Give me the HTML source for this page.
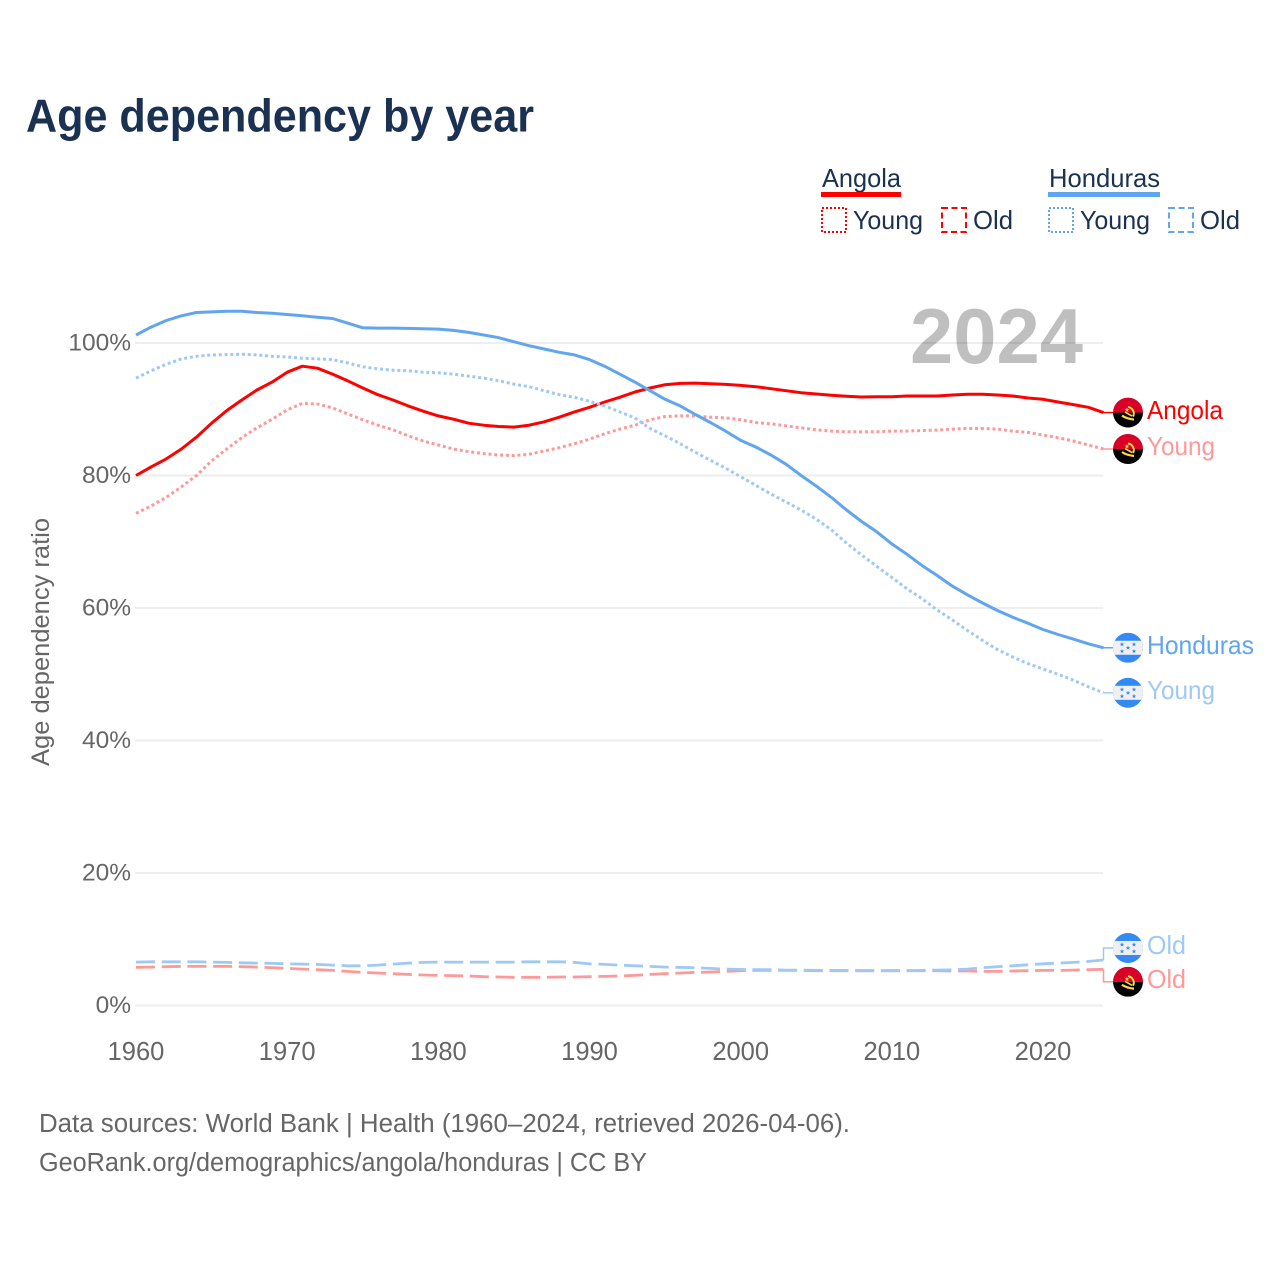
<!DOCTYPE html>
<html lang="en">
<head>
<meta charset="utf-8">
<title>Age dependency by year</title>
<style>
html,body{margin:0;padding:0;background:#fff;width:1280px;height:1280px;overflow:hidden}
svg{display:block;font-family:"Liberation Sans",sans-serif}
</style>
</head>
<body>
<svg id="chart" width="1280" height="1280" viewBox="0 0 1280 1280" xmlns="http://www.w3.org/2000/svg">
<defs>
<clipPath id="flag-clip"><circle cx="0" cy="0" r="15"/></clipPath>
<polygon id="flag-star" points="0,-2.2 0.6,-0.7 2.2,-0.7 1,0.3 1.4,1.9 0,1 -1.4,1.9 -1,0.3 -2.2,-0.7 -0.6,-0.7" fill="#338af3"/>
<g id="flag-angola">
<g clip-path="url(#flag-clip)">
<rect x="-15" y="-15" width="30" height="15" fill="#d80027"/>
<rect x="-15" y="0" width="30" height="15" fill="#000"/>
<path d="M0,-5.5 A6.5,6.5 0 0 1 5,4" fill="none" stroke="#ffda44" stroke-width="2"/>
<path d="M-6,3 Q-2,6 6,7" fill="none" stroke="#ffda44" stroke-width="2.2"/>
<path d="M4,3.5 L-3,-0.5" fill="none" stroke="#ffda44" stroke-width="1.6"/>
<polygon points="-1,-5 -0.3,-3.4 1.4,-3.4 0,-2.3 0.5,-0.6 -1,-1.6 -2.5,-0.6 -2,-2.3 -3.4,-3.4 -1.7,-3.4" fill="#ffda44"/>
</g>
</g>
<g id="flag-honduras">
<g clip-path="url(#flag-clip)">
<rect x="-15" y="-15" width="30" height="30" fill="#338af3"/>
<rect x="-15" y="-7" width="30" height="14" fill="#f0f0f0"/>
<use href="#flag-star" x="-6" y="-3.4"/>
<use href="#flag-star" x="6" y="-3.4"/>
<use href="#flag-star" x="0" y="0"/>
<use href="#flag-star" x="-6" y="3.4"/>
<use href="#flag-star" x="6" y="3.4"/>
</g>
</g>
</defs>

<text x="26" y="131.5" font-size="46" font-weight="700" fill="#1a3152" textLength="508" lengthAdjust="spacingAndGlyphs">Age dependency by year</text>

<g font-size="26" fill="#1a3152">
  <text x="822" y="187" textLength="79" lengthAdjust="spacingAndGlyphs">Angola</text>
  <rect x="821" y="192" width="80" height="5" fill="#ff0000"/>
  <rect x="822" y="208" width="24" height="24" fill="none" stroke="#ff0000" stroke-width="2" stroke-dasharray="2 2"/>
  <text x="853" y="229" textLength="70" lengthAdjust="spacingAndGlyphs">Young</text>
  <rect x="942" y="208" width="24" height="24" fill="none" stroke="#ff0000" stroke-width="2" stroke-dasharray="6 3.5"/>
  <text x="973" y="229" textLength="40" lengthAdjust="spacingAndGlyphs">Old</text>
  <text x="1049" y="187" textLength="111" lengthAdjust="spacingAndGlyphs">Honduras</text>
  <rect x="1048" y="192" width="112" height="5" fill="#60a5ee"/>
  <rect x="1049" y="208" width="24" height="24" fill="none" stroke="#60a5ee" stroke-width="2" stroke-dasharray="2 2"/>
  <text x="1080" y="229" textLength="70" lengthAdjust="spacingAndGlyphs">Young</text>
  <rect x="1169" y="208" width="24" height="24" fill="none" stroke="#60a5ee" stroke-width="2" stroke-dasharray="6 3.5"/>
  <text x="1200" y="229" textLength="40" lengthAdjust="spacingAndGlyphs">Old</text>
</g>

<g id="grid"></g>
<g id="yticks"></g>
<g id="xticks"></g>

<text transform="translate(49,642) rotate(-90)" text-anchor="middle" font-size="25" fill="#666" textLength="248" lengthAdjust="spacingAndGlyphs">Age dependency ratio</text>

<g id="series"></g>
<g id="labels"></g>

<text x="910" y="363" font-size="78" font-weight="700" fill="#000" fill-opacity="0.25" textLength="173" lengthAdjust="spacingAndGlyphs">2024</text>

<g font-size="25.5" fill="#666">
  <text x="39" y="1132" textLength="811" lengthAdjust="spacingAndGlyphs">Data sources: World Bank | Health (1960–2024, retrieved 2026-04-06).</text>
  <text x="39" y="1171" textLength="608" lengthAdjust="spacingAndGlyphs">GeoRank.org/demographics/angola/honduras | CC BY</text>
</g>
</svg>

<script>
var years = [1960,1961,1962,1963,1964,1965,1966,1967,1968,1969,1970,1971,1972,1973,1974,1975,1976,1977,1978,1979,1980,1981,1982,1983,1984,1985,1986,1987,1988,1989,1990,1991,1992,1993,1994,1995,1996,1997,1998,1999,2000,2001,2002,2003,2004,2005,2006,2007,2008,2009,2010,2011,2012,2013,2014,2015,2016,2017,2018,2019,2020,2021,2022,2023,2024];
var xTickLabels = [1960,1970,1980,1990,2000,2010,2020];
var yTickLabels = [0,20,40,60,80,100];

var angolaTotal = [80,81.3,82.5,84,85.8,87.9,89.8,91.4,92.9,94.1,95.6,96.5,96.2,95.3,94.3,93.2,92.2,91.4,90.5,89.7,89,88.5,87.9,87.6,87.4,87.3,87.6,88.1,88.8,89.6,90.3,91.1,91.8,92.6,93.2,93.7,93.9,93.95,93.85,93.75,93.6,93.4,93.1,92.8,92.5,92.3,92.1,91.95,91.85,91.9,91.9,92,92,92,92.15,92.25,92.25,92.15,92,91.7,91.5,91.1,90.7,90.3,89.5];
var angolaYoung = [74.3,75.4,76.7,78.3,80,82.2,84,85.7,87.2,88.5,89.9,90.9,90.8,90.2,89.3,88.4,87.6,86.9,86,85.2,84.6,84,83.6,83.3,83.1,83,83.2,83.7,84.2,84.8,85.5,86.3,87,87.6,88.4,88.9,89,89,88.8,88.7,88.4,88,87.8,87.5,87.2,86.9,86.7,86.6,86.6,86.6,86.7,86.7,86.8,86.85,87,87.1,87.1,87,86.7,86.5,86.1,85.7,85.2,84.6,84];
var angolaOld = [5.77,5.8,5.85,5.9,5.9,5.9,5.9,5.85,5.8,5.7,5.6,5.5,5.4,5.3,5.15,5,4.9,4.8,4.7,4.6,4.55,4.5,4.45,4.35,4.3,4.25,4.25,4.25,4.3,4.3,4.35,4.4,4.45,4.55,4.7,4.8,4.9,5,5.05,5.15,5.25,5.3,5.3,5.3,5.3,5.25,5.25,5.25,5.25,5.25,5.25,5.25,5.25,5.25,5.2,5.2,5.15,5.15,5.2,5.25,5.3,5.3,5.35,5.4,5.47];
var hondurasTotal = [101.2,102.4,103.4,104.1,104.6,104.7,104.8,104.8,104.6,104.5,104.3,104.1,103.9,103.7,103,102.3,102.25,102.25,102.2,102.15,102.1,101.9,101.6,101.2,100.8,100.2,99.6,99.1,98.6,98.2,97.5,96.5,95.3,94.1,92.8,91.5,90.5,89.2,88,86.7,85.3,84.3,83.1,81.7,80,78.4,76.7,74.8,73.06,71.5,69.66,68.1,66.4,64.9,63.3,62,60.75,59.6,58.6,57.7,56.75,56,55.3,54.6,54];
var hondurasYoung = [94.7,95.8,96.8,97.6,98,98.2,98.25,98.3,98.2,98,97.9,97.7,97.6,97.5,97,96.4,96.1,95.9,95.8,95.6,95.5,95.3,95,94.7,94.3,93.8,93.4,92.8,92.2,91.8,91.2,90.5,89.6,88.7,87.1,86,84.8,83.5,82.3,81.1,79.8,78.5,77.2,76,74.8,73.4,71.8,69.8,68,66.3,64.6,62.9,61.4,59.7,58.2,56.6,55.1,53.7,52.6,51.6,50.8,50,49.1,48.1,47.2];
var hondurasOld = [6.55,6.6,6.6,6.6,6.6,6.55,6.5,6.45,6.4,6.35,6.3,6.25,6.2,6.1,6,6,6.1,6.25,6.4,6.5,6.55,6.55,6.55,6.55,6.55,6.55,6.6,6.6,6.6,6.5,6.3,6.2,6.1,6,5.9,5.8,5.75,5.7,5.6,5.5,5.45,5.4,5.4,5.35,5.35,5.3,5.3,5.3,5.25,5.25,5.25,5.25,5.3,5.35,5.4,5.5,5.7,5.85,6,6.15,6.3,6.4,6.5,6.65,6.87];

var SVGNS = 'http://www.w3.org/2000/svg';
function xScale(year){ return 136 + (year - 1960) * 15.117; }
function yScale(v){ return 1005.5 - v * 6.625; }
function make(tag, parent){
  var el = document.createElementNS(SVGNS, tag);
  parent.appendChild(el);
  return el;
}

var gridG = document.getElementById('grid');
var yG = document.getElementById('yticks');
var xG = document.getElementById('xticks');

yTickLabels.forEach(function(v){
  var line = make('line', gridG);
  
  
  line.setAttribute('x1', 135);
  line.setAttribute('x2', 1103);
  line.setAttribute('y1', yScale(v));
  line.setAttribute('y2', yScale(v));
  line.setAttribute('stroke', '#eeeeee');
  line.setAttribute('stroke-width', 2);
  var t = make('text', yG);
  
  
  t.setAttribute('x', 131);
  t.setAttribute('y', yScale(v) + 7.5);
  t.setAttribute('text-anchor', 'end');
  t.setAttribute('font-size', '24.5');
  t.setAttribute('fill', '#666');
  t.textContent = v + '%';
});

xTickLabels.forEach(function(y){
  var t = make('text', xG);
  
  
  t.setAttribute('x', xScale(y));
  t.setAttribute('y', 1060);
  t.setAttribute('text-anchor', 'middle');
  t.setAttribute('font-size', '25.5');
  t.setAttribute('fill', '#666');
  t.textContent = y;
});

var seriesG = document.getElementById('series');
var labelsG = document.getElementById('labels');

function drawSeries(key, values, color, width, dash, flag, labelText, labelOffset, labelWidth){
  var pts = values.map(function(v, i){ return xScale(years[i]).toFixed(1) + ',' + yScale(v).toFixed(1); });
  var line = make('polyline', seriesG);
  
  
  line.setAttribute('points', pts.join(' '));
  line.setAttribute('fill', 'none');
  line.setAttribute('stroke', color);
  line.setAttribute('stroke-width', width);
  line.setAttribute('stroke-linejoin', 'round');
  if (dash) { line.setAttribute('stroke-dasharray', dash); }

  var endX = xScale(years[years.length - 1]);
  var endY = yScale(values[values.length - 1]);
  var labelY = endY + labelOffset;

  var conn = make('polyline', labelsG);
  
  
  conn.setAttribute('points', endX + ',' + endY + ' ' + endX + ',' + labelY + ' 1113,' + labelY);
  conn.setAttribute('fill', 'none');
  conn.setAttribute('stroke', color);
  conn.setAttribute('stroke-width', 1.5);

  var use = make('use', labelsG);
  
  
  use.setAttribute('href', '#' + flag);
  use.setAttribute('transform', 'translate(1128,' + labelY + ')');

  var t = make('text', labelsG);
  
  
  t.setAttribute('x', 1147);
  t.setAttribute('y', labelY + 6.2);
  t.setAttribute('font-size', '26');
  t.setAttribute('fill', color);
  t.setAttribute('textLength', labelWidth);
  t.setAttribute('lengthAdjust', 'spacingAndGlyphs');
  t.textContent = labelText;
}

drawSeries('angola-total', angolaTotal, '#ff0000', 3, '', 'flag-angola', 'Angola', 0, 76);
drawSeries('angola-young', angolaYoung, '#ff9999', 3, '3 2.8', 'flag-angola', 'Young', 0, 68);
drawSeries('angola-old', angolaOld, '#ff9999', 2.8, '19 6.7', 'flag-angola', 'Old', 12.5, 39);
drawSeries('honduras-total', hondurasTotal, '#60a5ee', 3, '', 'flag-honduras', 'Honduras', 0, 107);
drawSeries('honduras-young', hondurasYoung, '#9fc9f5', 3, '3 2.8', 'flag-honduras', 'Young', 0, 68);
drawSeries('honduras-old', hondurasOld, '#9fc9f5', 2.8, '19 6.7', 'flag-honduras', 'Old', -12, 39);
</script>
</body>
</html>
